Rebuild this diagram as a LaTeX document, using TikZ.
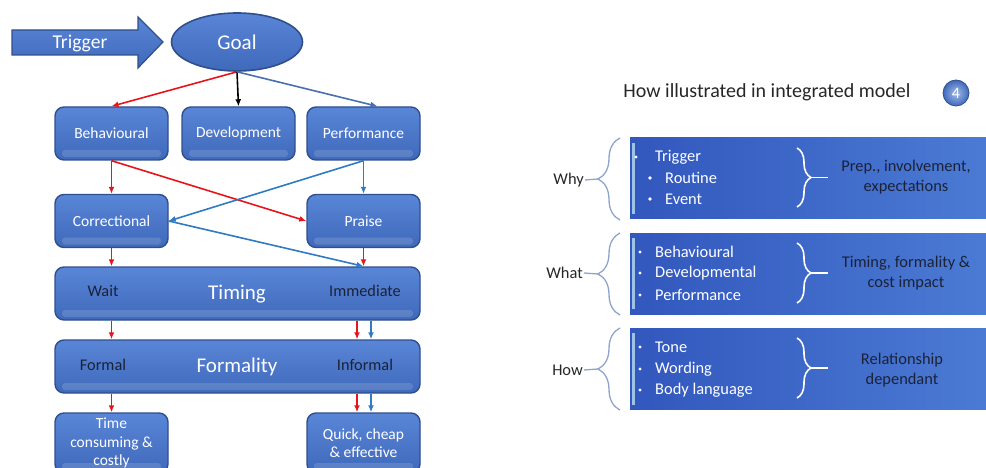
\documentclass[tikz,border=0pt]{standalone}
\usepackage{fontspec}
\setmainfont{Carlito}
\usepackage{tikz}
\usetikzlibrary{%
arrows.meta,%
calc,%
shapes.geometric,%
decorations.pathreplacing}

\definecolor{boxtop}{HTML}{5A86D8}
\definecolor{boxbot}{HTML}{3F69BA}
\definecolor{boxline}{HTML}{2F4F8C}
\definecolor{darktext}{HTML}{1B2238}
\definecolor{titletext}{HTML}{262626}
\definecolor{arrred}{HTML}{E8141B}
\definecolor{arrblue}{HTML}{2E7BC4}
\definecolor{arrsteel}{HTML}{4A6FAE}
\definecolor{panelleft}{HTML}{3257BD}
\definecolor{panelright}{HTML}{4B7BD4}
\definecolor{bracegray}{HTML}{8EA4CC}
\definecolor{barlight}{HTML}{9DC3E6}

\tikzset{
  stepbox/.style={rectangle, rounded corners=9pt, draw=boxline, line width=1.4pt,
    top color=boxtop, bottom color=boxbot, text=white, align=center,
    minimum width=113pt, minimum height=53pt, inner sep=2pt,
    font=\fontsize{15.5}{18.5}\selectfont,
    path picture={\fill[white, opacity=0.14, rounded corners=3pt]
      ($(path picture bounding box.south west)+(7,-3)$) rectangle
      ($(path picture bounding box.south east)+(-7,-10)$);}},
  widebox/.style={stepbox, minimum width=365pt},
  goalshape/.style={ellipse, draw=boxline, line width=1.6pt, top color=boxtop,
    bottom color=boxbot, minimum width=131pt, minimum height=58pt, inner sep=0pt,
    text=white, font=\fontsize{21}{24}\selectfont},
  bartitle/.style={text=white, font=\fontsize{21}{24}\selectfont},
  barside/.style={text=darktext, font=\fontsize{16.3}{19}\selectfont},
  link/.style={-{Latex[length=7pt,width=6pt]}, line width=1.6pt},
  redlink/.style={link, arrred},
  bluelink/.style={link, arrblue},
  panel/.style={rectangle, left color=panelleft, right color=panelright,
    minimum width=360pt, minimum height=81pt, inner sep=0pt},
  itemtext/.style={anchor=west, text=white, inner sep=0pt,
    font=\fontsize{16.4}{19}\selectfont},
  sidetext/.style={text=darktext, align=center,
    font=\fontsize{16.4}{20.5}\selectfont},
  sidelabel/.style={anchor=east, text=titletext, inner sep=1pt,
    font=\fontsize{16.4}{19}\selectfont},
  outerbrace/.style={decorate, decoration={brace, amplitude=22pt},
    draw=bracegray, line width=1.3pt},
  innerbrace/.style={decorate, decoration={brace, amplitude=14pt},
    draw=white, line width=1.6pt},
}

\begin{document}
\begin{tikzpicture}[x=1pt,y=-1pt]
\useasboundingbox (0,0) rectangle (986,468);

% left flow
\path[top color=boxtop, bottom color=boxbot, draw=boxline, line width=1.2pt]
  (12,30) -- (138,30) -- (138,17) -- (163,42) -- (138,68) -- (138,55) -- (12,55) -- cycle;
\node[bartitle, font=\fontsize{19.6}{22}\selectfont] (trigger) at (80,43) {Trigger};
\node[goalshape] (goal) at (237,42) {Goal};

\node[stepbox] (behav) at (111.5,133.5) {Behavioural};
\node[stepbox] (devel) at (238.5,133.5) {Development};
\node[stepbox] (perf) at (363.5,133.5) {Performance};
\node[stepbox] (correct) at (111.5,221) {Correctional};
\node[stepbox] (praise) at (363.5,221) {Praise};

\node[widebox] (timing) at (237.5,293.5) {};
\node[barside] (wait) at (103,291) {Wait};
\node[bartitle] (timinglabel) at (237,294) {Timing};
\node[barside] (immediate) at (365,291) {Immediate};

\node[widebox] (formality) at (237.5,366.5) {};
\node[barside] (formal) at (103,365) {Formal};
\node[bartitle] (formalitylabel) at (237,367) {Formality};
\node[barside] (informal) at (365,365) {Informal};

\node[stepbox, minimum height=60pt] (costly) at (111.5,443) {Time\\consuming \&\\costly};
\node[stepbox, minimum height=60pt] (quick) at (363.5,443) {Quick, cheap\\\& effective};

\coordinate (redlane) at (357,0);
\coordinate (bluelane) at (371,0);

\draw[redlink] (goal.south) -- (behav.north);
\draw[link, black] (goal.south) -- (devel.north);
\draw[link, arrsteel] (goal.south) -- ($(perf.north)+(14,0)$);
\draw[redlink] (behav.south) -- (correct.north);
\draw[redlink] (behav.south) -- (praise.west);
\draw[bluelink] (perf.south) -- (praise.north);
\draw[bluelink] (perf.south) -- (correct.east);
\draw[bluelink] (correct.east) -- (timing.north -| praise.south);
\draw[redlink] (praise.south) -- (timing.north -| praise.south);
\draw[redlink] (correct.south) -- (timing.north -| correct.south);
\draw[redlink] (timing.south -| correct.south) -- (formality.north -| correct.south);
\draw[redlink] (timing.south -| redlane) -- (formality.north -| redlane);
\draw[bluelink] (timing.south -| bluelane) -- (formality.north -| bluelane);
\draw[redlink] (formality.south -| costly.north) -- (costly.north);
\draw[redlink] (formality.south -| redlane) -- (quick.north -| redlane);
\draw[bluelink] (formality.south -| bluelane) -- (quick.north -| bluelane);

% right panels
\node[text=titletext, font=\fontsize{20}{24}\selectfont] (title) at (767,92)
  {How illustrated in integrated model};
\node[circle, inner color=boxtop!55!white, outer color=boxbot, draw=boxline,
  line width=0.8pt, minimum size=26pt, inner sep=0pt,
  text=white, font=\fontsize{16}{18}\selectfont] (num) at (956,93) {4};

\node[panel] (whybox) at (810,178.5) {};
\node[panel] (whatbox) at (810,273.5) {};
\node[panel] (howbox) at (810,369) {};

\foreach \b in {whybox,whatbox,howbox}
  \draw[barlight, line width=3pt] ($(\b.north west)+(4,5)$) -- ($(\b.south west)+(4,-5)$);

\fill[white] (636,157) circle (1.6pt);
\node[itemtext] (itrigger) at (655,157) {Trigger};
\fill[white] (650,178) circle (1.8pt);
\node[itemtext] (iroutine) at (665,178) {Routine};
\fill[white] (650,199) circle (1.8pt);
\node[itemtext] (ievent) at (665,199) {Event};

\foreach \t/\y in {Behavioural/252,Developmental/273,Performance/295,Tone/347,Wording/369,Body language/390}{
  \fill[white] (640,\y) circle (1.6pt);
  \node[itemtext] at (655,\y) {\t};
}

\node[sidetext] (prep) at (906,177) {Prep., involvement,\\expectations};
\node[sidetext] (cost) at (906,273) {Timing, formality \&\\cost impact};
\node[sidetext] (relation) at (902,370) {Relationship\\dependant};

\draw[innerbrace] (797,148) -- (797,207);
\draw[white, line width=1.6pt] (811,177.5) -- (828,177.5);
\draw[innerbrace] (797,243) -- (797,303);
\draw[white, line width=1.6pt] (811,273) -- (828,273);
\draw[innerbrace] (797,338) -- (797,398);
\draw[white, line width=1.6pt] (811,368) -- (828,368);

\node[sidelabel] (why) at (585,180) {Why};
\node[sidelabel] (what) at (584,273) {What};
\node[sidelabel] (how) at (584,370) {How};

\coordinate (whytip) at (598,179);
\coordinate (whattip) at (598,274);
\coordinate (howtip) at (598,369);
\draw[outerbrace] (620,220) -- (620,138);
\draw[outerbrace] (620,315) -- (620,233);
\draw[outerbrace] (620,410) -- (620,328);
\draw[bracegray, line width=1.3pt] (why.east) -- (whytip);
\draw[bracegray, line width=1.3pt] (what.east) -- (whattip);
\draw[bracegray, line width=1.3pt] (how.east) -- (howtip);
\end{tikzpicture}
\end{document}
